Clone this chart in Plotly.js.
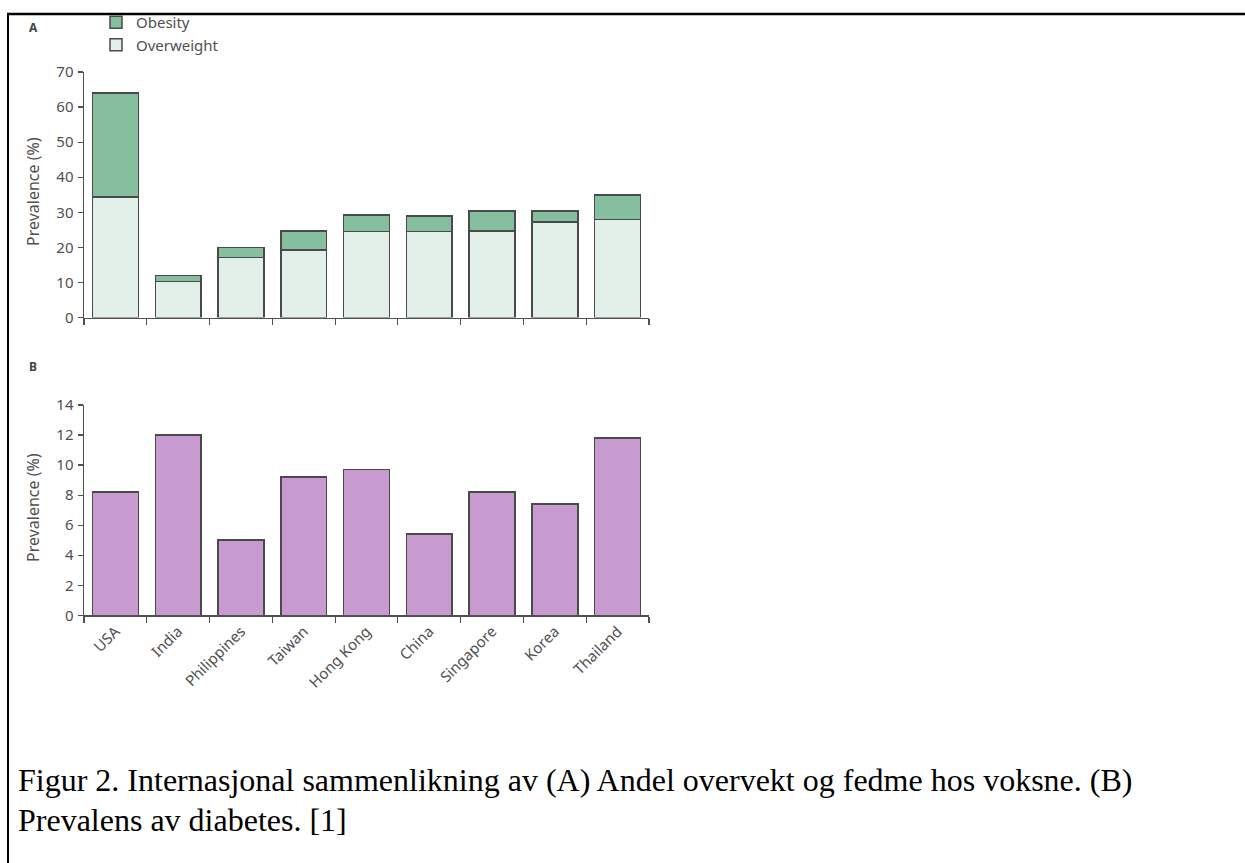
<!DOCTYPE html>
<html>
<head>
<meta charset="utf-8">
<script src="https://cdn.plot.ly/plotly-3.0.1.min.js"></script>
<style>
html,body{margin:0;padding:0;background:#fff;}
#chart{width:1245px;height:863px;}
</style>
</head>
<body>
<div id="chart"></div>
<script>
const countries = ["USA","India","Philippines","Taiwan","Hong Kong","China","Singapore","Korea","Thailand"];
const overweight = [34.3,10.2,17.1,19.2,24.5,24.5,24.7,27.2,28.0];
const obesityTotal = [64.0,12.0,20.0,24.7,29.2,29.0,30.4,30.4,34.9];
const obesity = obesityTotal.map((t,i)=>+(t-overweight[i]).toFixed(1));
const diabetes = [8.2,12.0,5.0,9.2,9.7,5.4,8.2,7.4,11.8];
const yTicksA = [0,10,20,30,40,50,60,70];
const yTicksB = [0,2,4,6,8,10,12,14];

const W = 1245, H = 863;
const px = v => v / W;
const py = v => 1 - v / H;

const gray = '#505050';
const lineCol = '#4a4a4a';
const sans = 'Noto Sans, Open Sans, sans-serif';
const tickFont = {family:sans, size:15, color:gray};

const traces = [
  {type:'bar', name:'Overweight', x:countries, y:overweight, xaxis:'x', yaxis:'y',
   marker:{color:'#e3efe9', line:{color:lineCol, width:1.5}}},
  {type:'bar', name:'Obesity', x:countries, y:obesity, xaxis:'x', yaxis:'y',
   marker:{color:'#86bf9f', line:{color:lineCol, width:1.5}}},
  {type:'bar', name:'Diabetes', x:countries, y:diabetes, xaxis:'x2', yaxis:'y2', showlegend:false,
   marker:{color:'#c89bd0', line:{color:lineCol, width:1.5}}}
];

const xCommon = {
  type:'category', tickson:'boundaries', ticks:'outside', ticklen:6, tickcolor:gray, tickwidth:1.2,
  showline:true, linecolor:gray, linewidth:1.5, showgrid:false, zeroline:false,
  domain:[px(84), px(649)], fixedrange:true, tickfont:tickFont
};
const yCommon = {
  ticks:'outside', ticklen:5, tickcolor:gray, tickwidth:1.2, showline:true, linecolor:gray, linewidth:1.5,
  showgrid:false, zeroline:false, tickfont:tickFont, fixedrange:true, ticklabelstandoff:1
};

const layout = {
  width:W, height:H, margin:{l:0,r:0,t:0,b:0}, paper_bgcolor:'#fff', plot_bgcolor:'rgba(0,0,0,0)',
  barmode:'stack', bargap:0.27, showlegend:true,
  legend:{x:px(96), y:py(6), xanchor:'left', yanchor:'top', traceorder:'reversed',
          font:{family:sans, size:15, color:gray},
          itemwidth:30, tracegroupgap:0, bgcolor:'rgba(0,0,0,0)'},
  xaxis:Object.assign({}, xCommon, {anchor:'y', showticklabels:false}),
  yaxis:Object.assign({}, yCommon, {anchor:'x', domain:[py(317.5), py(72)], range:[0,70],
        tickmode:'array', tickvals:yTicksA}),
  xaxis2:Object.assign({}, xCommon, {anchor:'y2', tickangle:-45}),
  yaxis2:Object.assign({}, yCommon, {anchor:'x2', domain:[py(615.3), py(405)], range:[0,14],
        tickmode:'array', tickvals:yTicksB}),
  annotations:[
    {text:'<b>A</b>', xref:'paper', yref:'paper', x:px(27), y:py(28), xanchor:'left', yanchor:'middle', showarrow:false,
     font:{family:sans, size:12, color:'#444'}},
    {text:'<b>B</b>', xref:'paper', yref:'paper', x:px(27), y:py(366), xanchor:'left', yanchor:'middle', showarrow:false,
     font:{family:sans, size:12, color:'#444'}},
    {text:'Prevalence (%)', xref:'paper', yref:'paper', x:px(33), y:py(192), textangle:-90, showarrow:false,
     xanchor:'center', yanchor:'middle', font:{family:sans, size:16, color:gray}},
    {text:'Prevalence (%)', xref:'paper', yref:'paper', x:px(33), y:py(508), textangle:-90, showarrow:false,
     xanchor:'center', yanchor:'middle', font:{family:sans, size:16, color:gray}},
    {text:'Figur 2. Internasjonal sammenlikning av (A) Andel overvekt og fedme hos voksne. (B)', xref:'paper', yref:'paper',
     x:px(16), y:py(780), xanchor:'left', yanchor:'middle', showarrow:false,
     font:{family:'Liberation Serif, Times New Roman, serif', size:32, color:'#000'}},
    {text:'Prevalens av diabetes. [1]', xref:'paper', yref:'paper',
     x:px(16), y:py(820), xanchor:'left', yanchor:'middle', showarrow:false,
     font:{family:'Liberation Serif, Times New Roman, serif', size:32, color:'#000'}}
  ],
  shapes:[
    {type:'line', xref:'paper', yref:'paper', x0:px(8), x1:px(8), y0:py(13), y1:0, line:{color:'#000', width:2}},
    {type:'line', xref:'paper', yref:'paper', x0:px(7), x1:1, y0:py(14), y1:py(14), line:{color:'#000', width:2.5}}
  ]
};

Plotly.newPlot('chart', traces, layout, {displayModeBar:false, staticPlot:true});
</script>
</body>
</html>
